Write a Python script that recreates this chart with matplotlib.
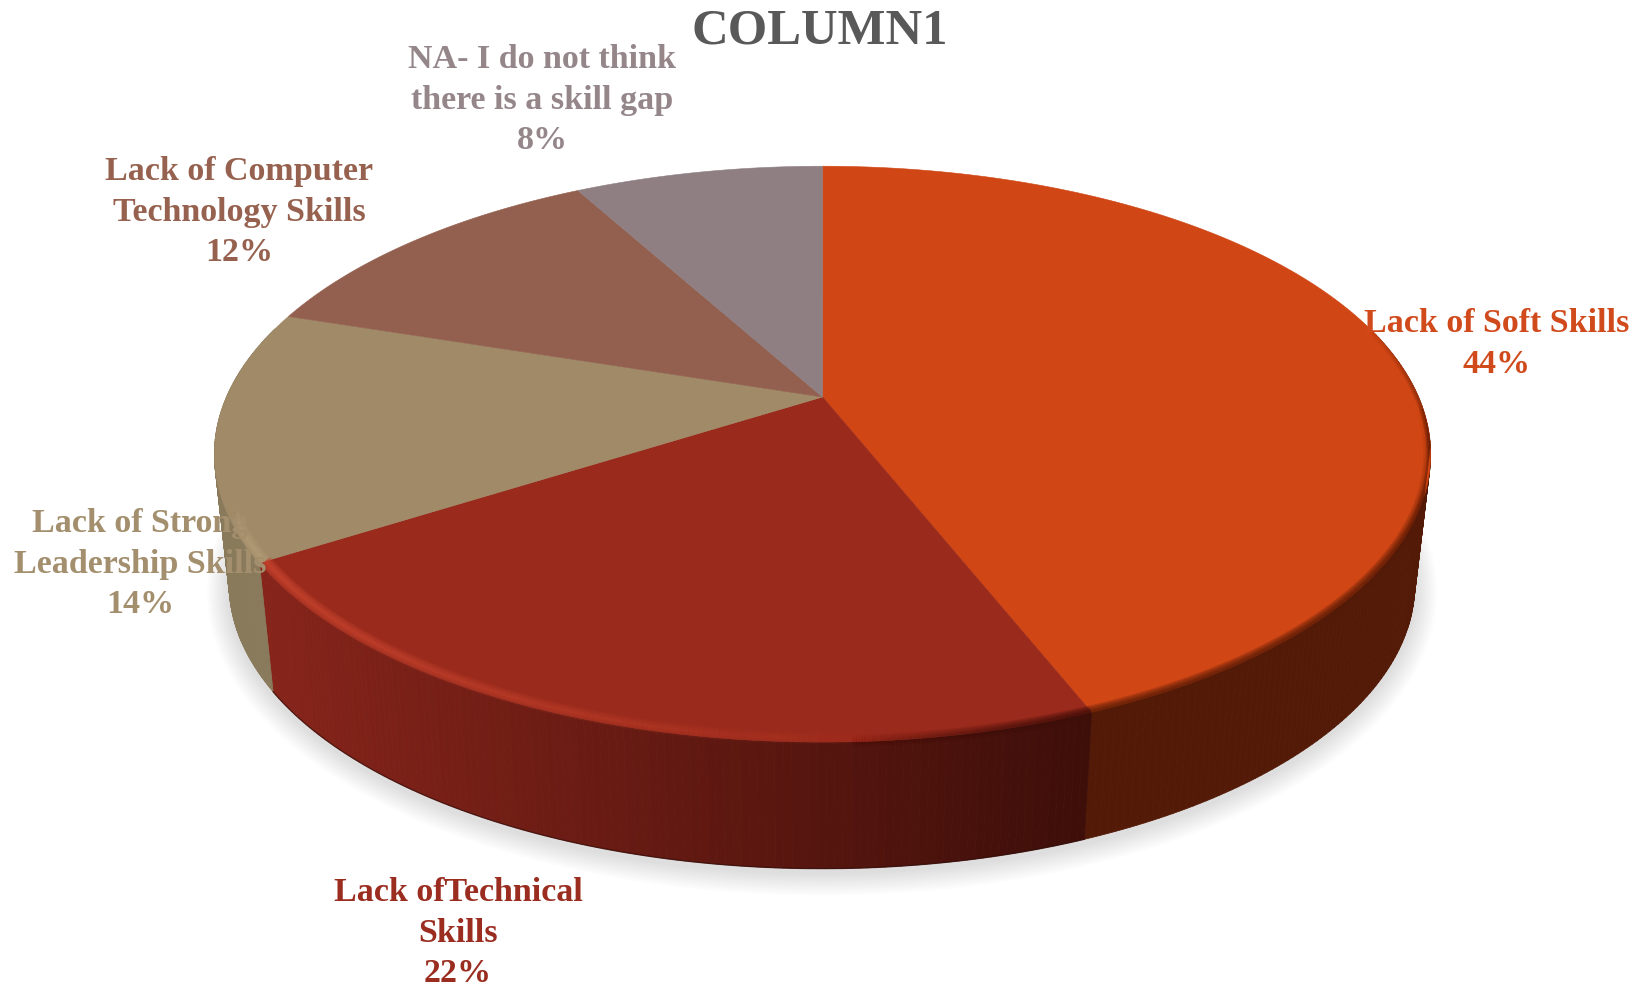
import numpy as np
import matplotlib
matplotlib.use('Agg')
import matplotlib.pyplot as plt
from matplotlib.collections import LineCollection, PolyCollection
from matplotlib.colors import to_rgb
from matplotlib.patches import Polygon

title = 'COLUMN1'
categories = ['Lack of Soft Skills', 'Lack ofTechnical\nSkills', 'Lack of Strong\nLeadership Skills',
              'Lack of Computer\nTechnology Skills', 'NA- I do not think\nthere is a skill gap']
values = [44, 22, 14, 12, 8]

top_colors = ['#d04615', '#9a2a1c', '#a08a68', '#93604f', '#8f7f82']
text_colors = ['#d04a1c', '#9a2d20', '#a38f6d', '#96624f', '#95868a']
side_left = ['#531a07', '#86241a', '#8a7a5c', '#6e4538', '#6a5c60']
side_right = ['#531a07', '#3e0e09', '#8a7a5c', '#6e4538', '#6a5c60']
label_xy = [(1497, 344), (458, 933), (140, 564), (239, 212), (542, 100)]

# top face and bottom rim of the disc, in pixels
CX, CY, A, B, K = 822.5, 397, 596, 276.6, 0.1985
CX2, CY2, A2, B2 = 822, 528, 581, 273


def top_rim(th, r=1.0):
    d = 1 + K * r * np.cos(th)
    return CX + A * r * np.sin(th) / d, CY - B * r * np.cos(th) / d


def bottom_rim(th):
    d = 1 + K * np.cos(th)
    return CX2 + A2 * np.sin(th) / d, CY2 - B2 * np.cos(th) / d


fig = plt.figure(figsize=(16.45, 9.85), dpi=100)
ax = fig.add_axes([0, 0, 1, 1])
ax.set_xlim(0, 1645)
ax.set_ylim(985, 0)
ax.axis('off')

# outline of the whole solid, used to keep the bevel strokes inside it
back = np.radians(np.linspace(-80, 100, 200))
front = np.radians(np.linspace(100, 260, 200))
ox = np.r_[top_rim(back)[0], bottom_rim(front)[0]]
oy = np.r_[top_rim(back)[1], bottom_rim(front)[1]]
solid = Polygon(np.column_stack([ox, oy]), closed=True, transform=ax.transData)


def rim_band(t0, t1, color, alpha0, alpha1, widths, r=1.0, z=5):
    # stacked strokes along the rim give a soft bevel
    th = np.linspace(t0, t1, 160)
    x, y = top_rim(th, r)
    pts = np.column_stack([x, y])
    segs = np.stack([pts[:-1], pts[1:]], axis=1)
    rgba = np.zeros((len(segs), 4))
    rgba[:, :3] = to_rgb(color)
    rgba[:, 3] = np.linspace(alpha0, alpha1, len(segs))
    for w in widths:
        lc = LineCollection(segs, colors=rgba, linewidths=w, capstyle='butt', zorder=z)
        ax.add_collection(lc)
        lc.set_clip_path(solid)


# soft shadow under the disc
t = np.linspace(0, 2 * np.pi, 400)
bx, by = bottom_rim(t)
for d in np.linspace(2, 22, 11):
    sx = CX2 + (bx - CX2) * (1 + d / 590)
    sy = CY2 + 4 + (by - CY2) * (1 + d / 330)
    ax.add_patch(Polygon(np.column_stack([sx, sy]), closed=True, fc='black', ec='none', alpha=0.011, zorder=1))

edges = np.concatenate([[0], np.cumsum(values)]) / np.sum(values) * 2 * np.pi

# side wall, split into thin quads so it can carry a gradient
for i in range(len(values)):
    lo, hi = max(edges[i], np.radians(75)), min(edges[i + 1], np.radians(285))
    if hi <= lo:
        continue
    th = np.linspace(lo, hi, 120)
    tx, ty = top_rim(th)
    ux, uy = bottom_rim(th)
    quads = [[(tx[j], ty[j]), (tx[j + 1], ty[j + 1]), (ux[j + 1], uy[j + 1]), (ux[j], uy[j])] for j in range(len(th) - 1)]
    f = (tx[:-1] - tx.min()) / max(tx.max() - tx.min(), 1)
    c0, c1 = np.array(to_rgb(side_left[i])), np.array(to_rgb(side_right[i]))
    cols = np.clip(np.outer(1 - f, c0) + np.outer(f, c1) + 0.001, 0, 1)
    ax.add_collection(PolyCollection(quads, facecolors=cols, edgecolors=cols, linewidths=0.6, zorder=2))
    if i == 1:
        ax.plot(ux, uy, color='#2e0a06', lw=1.0, alpha=0.6, zorder=3)

# top face
for i in range(len(values)):
    th = np.linspace(edges[i], edges[i + 1], 200)
    x, y = top_rim(th)
    verts = np.column_stack([np.r_[CX, x], np.r_[CY, y]])
    ax.add_patch(Polygon(verts, closed=True, fc=top_colors[i], ec=top_colors[i], lw=0.4, zorder=4))

# bevel on the front rim
soft = [9, 7, 5, 3, 1.5]
narrow = [6, 4, 2]
e1, e2 = edges[1], edges[2]
rim_band(np.radians(75), np.radians(100), side_left[0], 0.0, 0.3, narrow, r=1.0)
rim_band(np.radians(100), np.radians(125), side_left[0], 0.3, 0.0, narrow, r=1.0)
rim_band(np.radians(92), np.radians(125), side_left[0], 0.0, 0.24, soft, r=0.998)
rim_band(np.radians(125), e1, side_left[0], 0.24, 0.24, soft, r=0.998)
rim_band(e1, np.radians(178), side_right[1], 0.28, 0.0, soft, r=0.998)
rim_band(np.radians(172), e2, '#c8452f', 0.0, 0.3, soft, r=0.99)
rim_band(e2, np.radians(275), '#b7a07a', 0.24, 0.0, soft, r=0.992)

font = ['Liberation Serif', 'DejaVu Serif']
ax.text(820, 32, title, ha='center', va='center', fontsize=36.5, fontweight='bold', color='#595959', family=font, zorder=7)

for name, val, col, (lx, ly) in zip(categories, values, text_colors, label_xy):
    ax.text(lx, ly, f'{name}\n{val}%', ha='center', va='center', fontsize=24.5, fontweight='bold',
            color=col, family=font, linespacing=1.39, zorder=7)

fig.savefig('out.png', dpi=100, facecolor='white')
